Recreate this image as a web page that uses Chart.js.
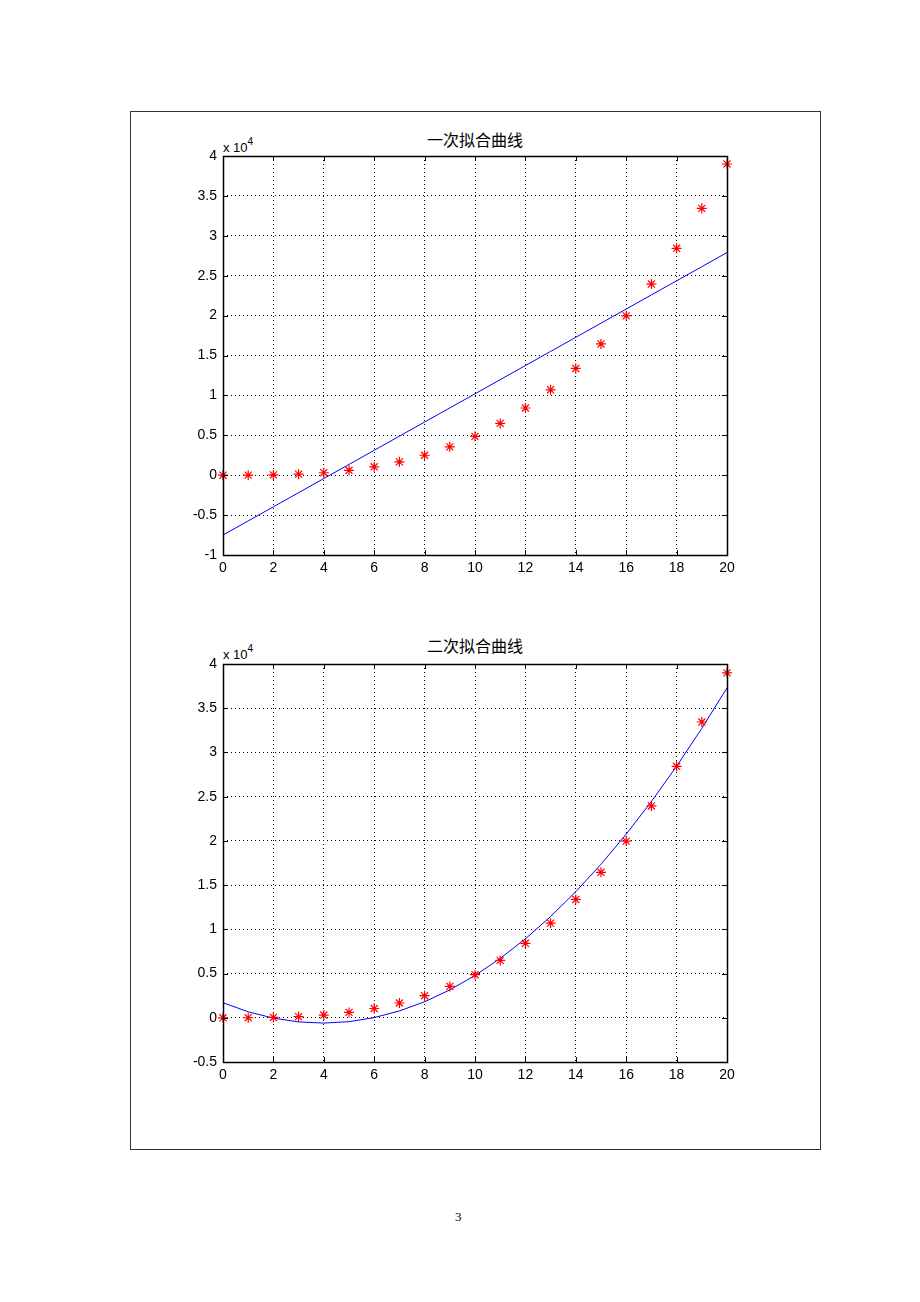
<!DOCTYPE html>
<html>
<head>
<meta charset="utf-8">
<script src="https://cdn.jsdelivr.net/npm/chart.js@4/dist/chart.umd.min.js"></script>
<style>
  body { margin: 0; background: #fff; }
  #page { position: relative; width: 920px; height: 1302px; background: #fff; overflow: hidden; }
  #frame { position: absolute; left: 130px; top: 111px; width: 689px; height: 1037px; border: 1px solid #333; }
  canvas { position: absolute; }
  .ttl { position: absolute; font-family: "Noto Sans CJK SC", sans-serif; font-size: 16px; color: #000; width: 300px; text-align: center; }
  .exp { position: absolute; font-family: "Liberation Sans", Arial, sans-serif; font-size: 13px; color: #000; }
  .exp sup { font-size: 10px; position: relative; top: -2px; }
  #pg { position: absolute; left: 455px; top: 1209px; font-family: "Liberation Serif", serif; font-size: 13px; color: #000; }
</style>
</head>
<body>
<div id="page">
  <div id="frame"></div>
  <div class="ttl" style="left:325px;top:127px;">一次拟合曲线</div>
  <div class="exp" style="left:223px;top:138px;">x 10<sup>4</sup></div>
  <canvas id="c1" width="620" height="470" style="left:150px;top:120px;"></canvas>
  <div class="ttl" style="left:325px;top:633px;">二次拟合曲线</div>
  <div class="exp" style="left:223px;top:645px;">x 10<sup>4</sup></div>
  <canvas id="c2" width="620" height="469" style="left:150px;top:628px;"></canvas>
  <div id="pg">3</div>
</div>
<script>
var xs = [0, 1, 2, 3, 4, 5, 6, 7, 8, 9, 10, 11, 12, 13, 14, 15, 16, 17, 18, 19, 20];
var measured = [0, 5, 40, 130, 310, 610, 1050, 1670, 2500, 3550, 4870, 6490, 8420, 10700, 13380, 16450, 19970, 23950, 28430, 33440, 39000];
var linearFit = [-7500, -5730, -3960, -2190, -420, 1350, 3120, 4890, 6660, 8430, 10200, 11970, 13740, 15510, 17280, 19050, 20820, 22590, 24360, 26130, 27900];
var quadFit = [1700, 680, -40, -470, -600, -440, 20, 770, 1810, 3150, 4780, 6710, 8930, 11450, 14260, 17360, 20760, 24450, 28440, 32720, 37300];
var xTicks = [0, 2, 4, 6, 8, 10, 12, 14, 16, 18, 20];

function pts(ys) {
    return xs.map((x, i) => ({ x: x, y: ys[i] }));
}

// axis box + inward tick marks like matlab
var boxPlugin = {
    id: 'box',
    afterDatasetsDraw(chart) {
        let ctx = chart.ctx, a = chart.chartArea;
        let sx = chart.scales.x, sy = chart.scales.y;
        ctx.save();
        ctx.strokeStyle = '#000';
        ctx.lineWidth = 1;
        ctx.beginPath();
        sx.ticks.forEach(t => {
            let px = Math.round(sx.getPixelForValue(t.value)) + 0.5;
            ctx.moveTo(px, a.bottom); ctx.lineTo(px, a.bottom - 5);
            ctx.moveTo(px, a.top); ctx.lineTo(px, a.top + 5);
        });
        sy.ticks.forEach(t => {
            let py = Math.round(sy.getPixelForValue(t.value)) + 0.5;
            ctx.moveTo(a.left, py); ctx.lineTo(a.left + 5, py);
            ctx.moveTo(a.right, py); ctx.lineTo(a.right - 5, py);
        });
        ctx.stroke();
        ctx.lineWidth = 1.5;
        ctx.strokeRect(Math.round(a.left) + 0.5, Math.round(a.top) + 0.5, Math.round(a.right - a.left), Math.round(a.bottom - a.top));
        ctx.restore();
    }
};

function makeChart(id, fit, ymin) {
    let ctx = document.getElementById(id).getContext('2d');
    return new Chart(ctx, {
        type: 'scatter',
        data: {
            datasets: [
                { type: 'line', data: pts(fit), borderColor: '#0000ff', borderWidth: 1, pointRadius: 0, tension: 0, fill: false, order: 2 },
                { data: pts(measured), pointStyle: 'star', pointRadius: 5, borderColor: '#ff0000', backgroundColor: '#ff0000', pointBorderWidth: 1.2, clip: false, order: 1 }
            ]
        },
        options: {
            responsive: false, animation: false,
            layout: { padding: { top: 36, right: 43, left: 0, bottom: 0 } },
            plugins: { legend: { display: false }, tooltip: { enabled: false } },
            scales: {
                x: {
                    type: 'linear', min: 0, max: 20,
                    afterBuildTicks: s => { s.ticks = xTicks.map(v => ({ value: v })); },
                    afterFit: s => { s.height = 35; },
                    grid: { color: '#000', lineWidth: 1, drawTicks: false },
                    border: { display: false, dash: [1, 3] },
                    ticks: { color: '#000', padding: 5, maxRotation: 0, font: { family: 'Liberation Sans', size: 14 } }
                },
                y: {
                    type: 'linear', min: ymin, max: 40000,
                    afterFit: s => { s.width = 73; },
                    grid: { color: '#000', lineWidth: 1, drawTicks: false },
                    border: { display: false, dash: [1, 3] },
                    ticks: { color: '#000', stepSize: 5000, padding: 6, font: { family: 'Liberation Sans', size: 14 },
                        callback: v => String(v / 10000) }
                }
            }
        },
        plugins: [boxPlugin]
    });
}

makeChart('c1', linearFit, -10000);
makeChart('c2', quadFit, -5000);
</script>
</body>
</html>
